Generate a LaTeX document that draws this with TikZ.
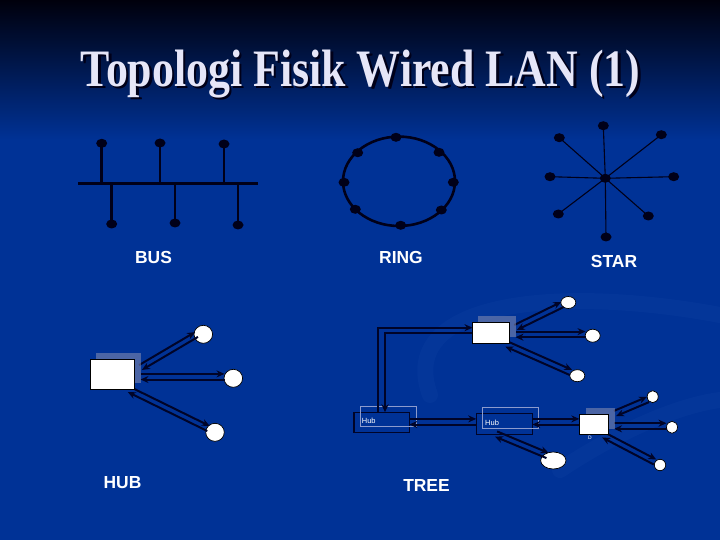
\documentclass[tikz,border=0pt]{standalone}
\usepackage{fontspec}
\usepackage{graphicx}
\setmainfont{Liberation Serif}
\newfontfamily\arialfont{Liberation Sans}
\usetikzlibrary{shapes.geometric,arrows.meta,calc}
\definecolor{bgblue}{RGB}{0,50,150}
\definecolor{bgtop}{RGB}{0,0,12}
\definecolor{ink}{RGB}{0,0,25}
\definecolor{linkink}{RGB}{0,4,40}
\definecolor{titlecol}{RGB}{230,230,248}
\definecolor{hubgray}{RGB}{125,135,175}
\definecolor{hubline}{RGB}{140,155,205}
\definecolor{swooshcol}{RGB}{60,110,200}
\newcommand\twolinks[3][2.8bp]{%
  \draw[link] ($(#2)!#1!90:(#3)$) -- ($(#3)!#1!-90:(#2)$);
  \draw[link] ($(#3)!#1!90:(#2)$) -- ($(#2)!#1!-90:(#3)$);}
\begin{document}
\begin{tikzpicture}[x=1bp,y=-1bp,
  dot/.style={ellipse, fill=ink, inner sep=0pt, minimum width=11bp, minimum height=9bp},
  wire/.style={draw=ink, line width=2.6bp},
  starwire/.style={draw=ink, line width=1.1bp},
  link/.style={draw=linkink, line width=2bp, -{Stealth[length=8bp,width=7bp]}},
  whitebox/.style={rectangle, fill=white, draw=black, line width=0.8bp, inner sep=0pt},
  graybox/.style={rectangle, fill=hubgray, fill opacity=0.6, inner sep=0pt},
  hubbox/.style={rectangle, fill=bgblue, draw=linkink, line width=1.1bp, inner sep=0pt},
  hubframe/.style={rectangle, draw=hubline, line width=0.6bp, inner sep=0pt},
  pc/.style={ellipse, fill=white, draw=black, line width=0.7bp, inner sep=0pt},
  toplabel/.style={font=\arialfont\bfseries\fontsize{17.5}{20}\selectfont, text=white, inner sep=0pt},
  hubtext/.style={font=\arialfont\fontsize{7.5}{8}\selectfont, text=white, anchor=west, inner sep=0pt},
  swoosh/.style={draw=swooshcol, opacity=0.07, line width=16bp, line cap=round}
]
\useasboundingbox (0,0) rectangle (720,540);
% background
\fill[bgblue] (0,0) rectangle (720,540);
\shade[top color=bgtop, bottom color=bgblue] (0,0) rectangle (720,140);
\draw[swoosh] (430,395) .. controls (395,300) and (560,285) .. (720,315);
\draw[swoosh] (560,470) .. controls (620,430) and (680,405) .. (720,400);

% title
\node[font=\fontsize{44}{48}\selectfont\bfseries, text=ink, anchor=base, inner sep=0pt] (titleshadow) at (363,89) {\scalebox{1}[1.2]{Topologi Fisik Wired LAN (1)}};
\node[font=\fontsize{44}{48}\selectfont\bfseries, text=titlecol, anchor=base, inner sep=0pt] (title) at (360.5,86.5) {\scalebox{1}[1.2]{Topologi Fisik Wired LAN (1)}};

% BUS
\coordinate (busL) at (78,183.5);
\coordinate (busR) at (258,183.5);
\node[dot] (b1) at (101.7,143.3) {};
\node[dot] (b2) at (160,143) {};
\node[dot] (b3) at (224,144) {};
\node[dot] (b4) at (111.7,224) {};
\node[dot] (b5) at (175,223) {};
\node[dot] (b6) at (238,225) {};
\draw[wire, line width=3bp] (busL) -- (busR);
\foreach \n in {b1,b2,b3,b4,b5,b6} \draw[wire] (\n.center) -- (\n |- busL);
\node[toplabel] (buslabel) at (153.5,257.5) {BUS};

% RING
\node[ellipse, draw=ink, line width=2.6bp, minimum width=112bp, minimum height=89.4bp, inner sep=0pt] (ring) at (399,181.3) {};
\node[dot] (r1) at (396,137.3) {};
\node[dot] (r2) at (357.7,152.7) {};
\node[dot] (r3) at (439,152.3) {};
\node[dot] (r4) at (344,182.3) {};
\node[dot] (r5) at (453.3,182.3) {};
\node[dot] (r6) at (355.3,209.3) {};
\node[dot] (r7) at (441.3,210) {};
\node[dot] (r8) at (400.7,225.3) {};
\node[toplabel] (ringlabel) at (401,257.5) {RING};

% STAR
\node[dot] (sc) at (605.3,178.3) {};
\node[dot] (s1) at (603.3,125.7) {};
\node[dot] (s2) at (559.3,137.7) {};
\node[dot] (s3) at (661.3,134.7) {};
\node[dot] (s4) at (550,176.7) {};
\node[dot] (s5) at (673.7,176.7) {};
\node[dot] (s6) at (558.3,214) {};
\node[dot] (s7) at (648.3,216) {};
\node[dot] (s8) at (606,237) {};
\foreach \n in {s1,s2,s3,s4,s5,s6,s7,s8} \draw[starwire] (sc.center) -- (\n.center);
\node[toplabel] (starlabel) at (614,261) {STAR};

% HUB
\node[pc, minimum width=18.6bp, minimum height=18bp] (hc1) at (203.3,334.3) {};
\node[pc, minimum width=18.6bp, minimum height=18bp] (hc2) at (233.3,378.3) {};
\node[pc, minimum width=18.6bp, minimum height=18bp] (hc3) at (215,432.3) {};
\coordinate (hA1) at (140.5,367.5);
\coordinate (hB1) at (196.5,334.5);
\coordinate (hA2) at (140.5,376.7);
\coordinate (hB2) at (224.5,376.7);
\coordinate (hA3) at (129,389.5);
\coordinate (hB3) at (208.5,428.5);
\twolinks{hA1}{hB1}
\twolinks{hA2}{hB2}
\twolinks{hA3}{hB3}
\node[graybox, minimum width=44.7bp, minimum height=29.7bp] (hubG) at (118.4,368.2) {};
\node[whitebox, minimum width=43.3bp, minimum height=30bp] (hubW) at (112.4,374.3) {};
\node[toplabel] (hublabel) at (122.5,483) {HUB};

% TREE
\node[pc, minimum width=15bp, minimum height=12bp] (tc1) at (568.3,302.5) {};
\node[pc, minimum width=15bp, minimum height=13bp] (tc2) at (592.7,335.7) {};
\node[pc, minimum width=15bp, minimum height=12bp] (tc3) at (577.3,375.7) {};
\node[pc, minimum width=25.4bp, minimum height=17bp] (te) at (553.3,460.5) {};
\node[pc, minimum width=11bp, minimum height=12bp] (td1) at (652.7,396.7) {};
\node[pc, minimum width=11bp, minimum height=12bp] (td2) at (672,427.3) {};
\node[pc, minimum width=11.4bp, minimum height=11.4bp] (td3) at (660,465) {};

\node[hubbox, minimum width=55.3bp, minimum height=20.2bp] (th1) at (381.65,422.4) {};
\node[hubframe, minimum width=56bp, minimum height=20.7bp] (th1f) at (388,416.35) {};
\node[hubtext] (th1t) at (361.7,421) {Hub};
\node[hubbox, minimum width=56.1bp, minimum height=21bp] (th2) at (504.25,423.8) {};
\node[hubframe, minimum width=55.8bp, minimum height=21bp] (th2f) at (510.4,417.8) {};
\node[hubtext] (th2t) at (485,422.5) {Hub};

% links of the tree
\coordinate (up1) at (378.3,412.3);
\coordinate (in1) at (472.5,327.7);
\coordinate (in2) at (472.5,333.3);
\coordinate (up2) at (385,412.3);
\draw[link] (up1) |- (in1);
\draw[link] (in2) -| (up2);

\coordinate (tA1) at (515.5,327.5);
\coordinate (tB1) at (562.5,304.5);
\coordinate (tA2) at (515.5,334.4);
\coordinate (tB2) at (585.5,334.4);
\coordinate (tA3) at (506.5,344);
\coordinate (tB3) at (571,372.5);
\twolinks{tA1}{tB1}
\twolinks{tA2}{tB2}
\twolinks{tA3}{tB3}

\coordinate (hhA) at (409.3,421.7);
\coordinate (hhB) at (476.2,421.7);
\twolinks{hhA}{hhB}
\coordinate (hdA) at (532.3,421.7);
\coordinate (hdB) at (579.3,421.7);
\twolinks{hdA}{hdB}
\coordinate (heA) at (496,434);
\coordinate (heB) at (547.5,455.5);
\twolinks{heA}{heB}

\coordinate (dA1) at (615,413.5);
\coordinate (dB1) at (648,399.5);
\coordinate (dA2) at (614,426);
\coordinate (dB2) at (666.5,426);
\coordinate (dA3) at (603.5,435);
\coordinate (dB3) at (655,462);
\twolinks{dA1}{dB1}
\twolinks{dA2}{dB2}
\twolinks{dA3}{dB3}

\node[graybox, minimum width=37.5bp, minimum height=21.2bp] (tG) at (496.75,326.6) {};
\node[whitebox, minimum width=37.2bp, minimum height=21bp] (tW) at (491.1,332.8) {};
\node[graybox, minimum width=29.5bp, minimum height=20.3bp] (tDG) at (600.25,418.45) {};
\node[whitebox, minimum width=29bp, minimum height=20.5bp] (tD) at (593.8,424.45) {};
\node[font=\arialfont\fontsize{5}{6}\selectfont, text=white, inner sep=0pt] (tDt) at (590,438) {D};
\node[toplabel] (treelabel) at (426.5,485) {TREE};
\end{tikzpicture}
\end{document}
